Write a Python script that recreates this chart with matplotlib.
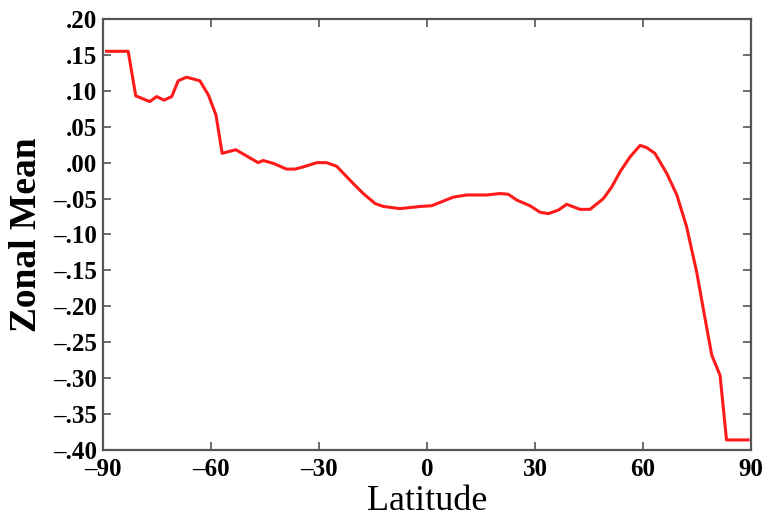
import matplotlib
matplotlib.use("Agg")
import matplotlib.pyplot as plt
from matplotlib.ticker import FuncFormatter

lat = [-89, -83, -80.9, -77, -75.1, -73, -70.9, -69.1, -66.8, -63.1, -60.7, -58.6,
       -56.9, -53.1, -46.9, -45.5, -42.7, -39, -36.7, -34.4, -30.6, -27.9, -25.1,
       -20.5, -17.7, -14.4, -12.1, -7.5, -1.9, 1.3, 7.3, 11, 16.6, 20.3, 22.6, 24.9,
       28.6, 31.4, 33.7, 36.5, 38.8, 42.5, 45.3, 49, 51.3, 53.6, 56.4, 59.2, 61,
       63.3, 66.6, 69.4, 72.1, 74.9, 76.8, 79.1, 81.4, 83.2, 89.2]
zonal_mean = [0.155, 0.155, 0.093, 0.085, 0.092, 0.087, 0.092, 0.114, 0.119, 0.114,
              0.094, 0.066, 0.013, 0.018, 0.000, 0.003, -0.001, -0.009, -0.009,
              -0.006, 0.000, 0.000, -0.005, -0.029, -0.043, -0.057, -0.061, -0.064,
              -0.061, -0.060, -0.048, -0.045, -0.045, -0.043, -0.044, -0.052, -0.060,
              -0.069, -0.071, -0.066, -0.058, -0.065, -0.065, -0.050, -0.034, -0.013,
              0.008, 0.024, 0.021, 0.013, -0.015, -0.045, -0.089, -0.152, -0.205,
              -0.268, -0.296, -0.386, -0.386]

xticks = [-90, -60, -30, 0, 30, 60, 90]
yticks = [0.20, 0.15, 0.10, 0.05, 0.00, -0.05, -0.10, -0.15, -0.20, -0.25, -0.30, -0.35, -0.40]

plt.rcParams['font.family'] = ['Liberation Serif', 'DejaVu Serif']
fig = plt.figure(figsize=(7.72, 5.23), dpi=100)
ax = fig.add_axes([0.1334, 0.1396, 0.8394, 0.8241])
ax.plot(lat, zonal_mean, color='#ff1a1a', lw=2.2)
ax.set_xlim(-90, 90)
ax.set_ylim(-0.40, 0.20)
ax.set_xticks(xticks)
ax.set_yticks(yticks)

def yfmt(v, pos):
    s = f"{abs(v):.2f}"[1:]
    return ("\u2013" + s) if v < -1e-9 else s

def xfmt(v, pos):
    return ("\u2013" + str(int(abs(v)))) if v < 0 else str(int(v))

ax.yaxis.set_major_formatter(FuncFormatter(yfmt))
ax.xaxis.set_major_formatter(FuncFormatter(xfmt))
ax.tick_params(direction='in', top=True, right=True, length=6, width=1.2,
               color='#555555', labelsize=18)
ax.tick_params(axis='y', pad=4)
ax.tick_params(axis='x', pad=6)
for lab in ax.get_xticklabels() + ax.get_yticklabels():
    lab.set_fontweight('bold')
for sp in ax.spines.values():
    sp.set_color('#555555')
    sp.set_linewidth(1.6)
ax.set_xlabel('Latitude', fontsize=26, labelpad=3)
ax.set_ylabel('Zonal Mean', fontsize=27, fontweight='bold', labelpad=7)
fig.savefig('out.png', dpi=100)
